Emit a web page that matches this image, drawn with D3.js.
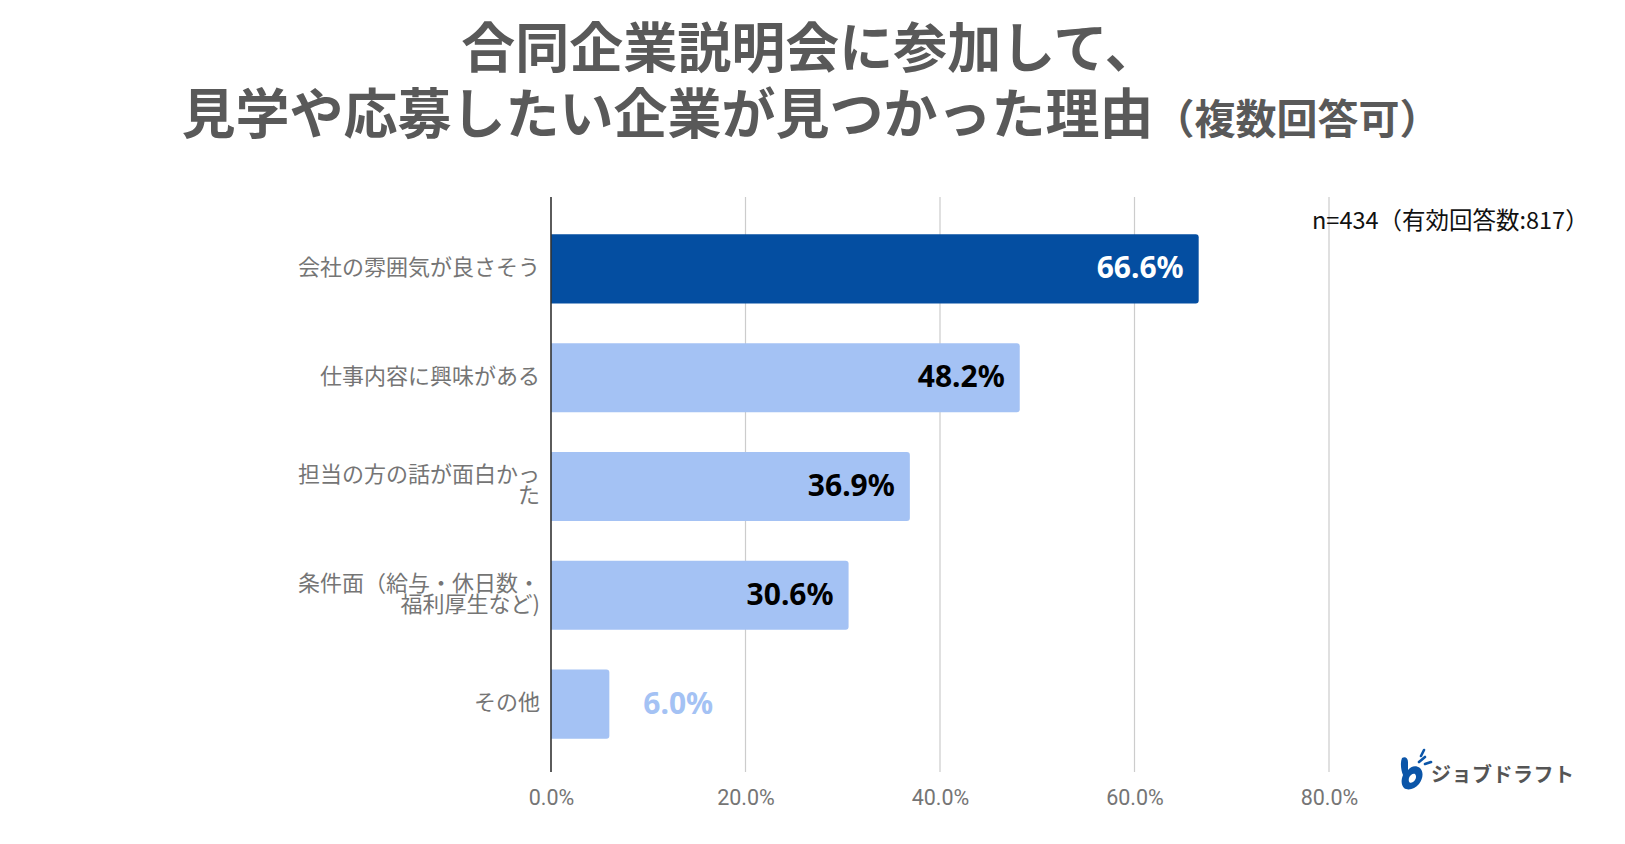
<!DOCTYPE html>
<html><head><meta charset="utf-8">
<script src="https://cdn.jsdelivr.net/npm/d3@7/dist/d3.min.js"></script>
<style>
html,body{margin:0;padding:0;background:#fff;}
svg{display:block;}
</style></head>
<body>
<svg id="chart" width="1625" height="844"></svg>
<script>
const titleLine1 = "合同企業説明会に参加して、";
const titleLine2 = "見学や応募したい企業が見つかった理由";
const titleSuffix = "（複数回答可）";
const noteText = "n=434（有効回答数:817）";
const categories = [
  ["会社の雰囲気が良さそう"],
  ["仕事内容に興味がある"],
  ["担当の方の話が面白かっ", "た"],
  ["条件面（給与・休日数・", "福利厚生など)"],
  ["その他"]
];
const values = [66.6, 48.2, 36.9, 30.6, 6.0];
const xTicks = [0, 20, 40, 60, 80];
const logoText = "ジョブドラフト";

const svg = d3.select("#chart");
const plotTop = 197, plotBottom = 772;

const x = d3.scaleLinear().domain([0, 80]).range([551, 1329]);
const y = d3.scaleBand().domain(d3.range(categories.length))
  .range([214.5, 758.5]).paddingInner(0.365).paddingOuter(0.1825);

// Title
const title = svg.append("text")
  .attr("text-anchor", "middle")
  .attr("font-family", "'Noto Sans CJK JP', sans-serif")
  .attr("font-weight", 700)
  .attr("fill", "#595959");
title.append("tspan").attr("x", 810).attr("y", 68).attr("font-size", 54).text(titleLine1);
title.append("tspan").attr("x", 811).attr("y", 134).attr("font-size", 54).text(titleLine2);
title.append("tspan").attr("font-size", 41).text(titleSuffix);

// Gridlines
svg.append("g").selectAll("line").data(xTicks.filter(d => d > 0)).join("line")
  .attr("x1", d => x(d)).attr("x2", d => x(d))
  .attr("y1", plotTop).attr("y2", plotBottom)
  .attr("stroke", "#cccccc").attr("stroke-width", 1.2);

// Bars with rounded right corners
const r = 3;
function barPath(x0, x1, y0, h) {
  const w = x1 - x0;
  const rr = Math.min(r, w / 2);
  return `M${x0},${y0}H${x1 - rr}Q${x1},${y0} ${x1},${y0 + rr}V${y0 + h - rr}Q${x1},${y0 + h} ${x1 - rr},${y0 + h}H${x0}Z`;
}
svg.append("g").selectAll("path").data(values).join("path")
  .attr("d", (d, i) => barPath(x(0), x(d), y(i), y.bandwidth()))
  .attr("fill", (d, i) => i === 0 ? "#044ea1" : "#a4c2f4");

// Axis line (left)
svg.append("line")
  .attr("x1", x(0)).attr("x2", x(0))
  .attr("y1", plotTop).attr("y2", plotBottom)
  .attr("stroke", "#333333").attr("stroke-width", 1.6);

// X axis tick labels
const xAxis = d3.axisBottom(x).tickValues(xTicks).tickFormat(d => d.toFixed(1) + "%").tickSize(0);
const gx = svg.append("g").attr("transform", `translate(0,${plotBottom + 15})`).call(xAxis);
gx.select(".domain").remove();
gx.selectAll("text")
  .attr("font-family", "Roboto, 'Noto Sans', sans-serif")
  .attr("font-size", 21.5).attr("fill", "#757575");

// Category labels
const catG = svg.append("g")
  .attr("font-family", "'Noto Sans CJK JP', sans-serif")
  .attr("font-size", 22).attr("fill", "#757575")
  .attr("text-anchor", "end");
categories.forEach((lines, i) => {
  const cy = y(i) + y.bandwidth() / 2 - 3;
  const lh = 21.5;
  const startY = cy - (lines.length - 1) * lh / 2 - 1;
  const t = catG.append("text").attr("dominant-baseline", "central");
  lines.forEach((ln, j) => {
    t.append("tspan").attr("x", 540).attr("y", startY + j * lh).text(ln);
  });
});

// Value labels
svg.append("g").selectAll("text").data(values).join("text")
  .attr("font-family", "'Noto Sans', 'Open Sans', sans-serif")
  .attr("font-weight", 700).attr("font-size", 30)
  .attr("dominant-baseline", "central")
  .attr("y", (d, i) => y(i) + y.bandwidth() / 2 - 2)
  .attr("x", d => (x(d) - x(0) > 100) ? x(d) - 15 : x(d) + 34)
  .attr("text-anchor", d => (x(d) - x(0) > 100) ? "end" : "start")
  .attr("fill", (d, i) => i === 0 ? "#ffffff" : ((x(d) - x(0) > 100) ? "#000000" : "#a4c2f4"))
  .text(d => d.toFixed(1) + "%");

// Note
svg.append("text")
  .attr("x", 1312).attr("y", 219)
  .attr("dominant-baseline", "central")
  .attr("font-family", "'Noto Sans CJK JP', sans-serif")
  .attr("font-size", 23.5).attr("fill", "#111111")
  .text(noteText);

// Logo
const logo = svg.append("g").attr("transform", "translate(1399,748)");
logo.append("path")
  .attr("d", "M3,10 C6,8 9,10 9,14 L9,22 C12,18 17,17 21,20 C25,24 24,31 20,36 C16,41 9,43 5,40 C2,37 2,32 4,27 C2,22 1,15 3,10 Z M10,30 C9,34 11,36 14,34 C17,32 18,28 16,26 C14,25 11,27 10,30 Z")
  .attr("fill", "#0b55a8").attr("fill-rule", "evenodd");
logo.append("path")
  .attr("d", "M20,14 L26,9 M22,8 L25,2 M26,16 L32,14")
  .attr("stroke", "#0b55a8").attr("stroke-width", 2.6).attr("stroke-linecap", "round");
logo.append("text")
  .attr("x", 32).attr("y", 25)
  .attr("dominant-baseline", "central")
  .attr("font-family", "'Noto Sans CJK JP', sans-serif")
  .attr("font-weight", 700).attr("font-size", 20)
  .attr("fill", "#555555")
  .attr("letter-spacing", 0.5)
  .text(logoText);
</script>
</body></html>
